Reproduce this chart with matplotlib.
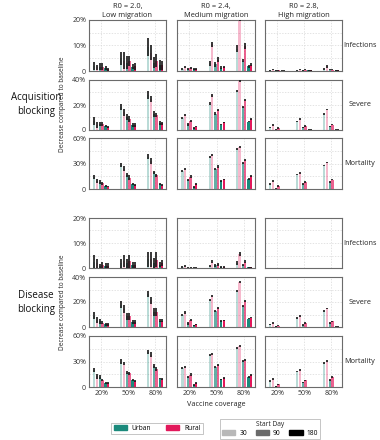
import numpy as np
import matplotlib.pyplot as plt
from matplotlib.patches import Patch

plt.rcParams['font.family'] = ['Open Sans', 'DejaVu Sans']

columns = ['R0 = 2.0,\nLow migration', 'R0 = 2.4,\nMedium migration', 'R0 = 2.8,\nHigh migration']
outcomes = ['Infections', 'Severe', 'Mortality']
strategies = ['Acquisition\nblocking', 'Disease\nblocking']
coverage = ['20%', '50%', '80%']
start_days = ['30', '90', '180']
regions = ['Urban', 'Rural']
y_max = [20, 40, 60]

# decrease (%) per column (low / medium / high migration), per coverage:
# [urban d30, rural d30, urban d90, rural d90, urban d180, rural d180]
acq_inf_mean = [
    [[2.0, 1.4, 1.6, 1.7, 1.1, 0.7], [5.0, 4.0, 3.2, 3.9, 1.7, 1.8], [9.5, 7.2, 3.2, 4.0, 2.3, 2.2]],
    [[0.8, 1.5, 0.6, 1.2, 0.6, 0.6], [3.0, 10.5, 2.6, 4.4, 1.3, 1.6], [8.8, 21.0, 4.1, 9.8, 1.8, 2.5]],
    [[0.3, 0.5, 0.3, 0.2, 0.1, 0.1], [0.2, 0.5, 0.3, 0.4, 0.2, 0.2], [0.9, 1.8, 0.4, 0.4, 0.2, 0.2]],
]
acq_inf_err = [
    [[1.5, 1.1, 1.4, 1.5, 0.9, 0.6], [2.5, 3.3, 2.6, 1.9, 1.1, 1.4], [3.5, 2.8, 2.1, 2.5, 1.9, 1.8]],
    [[0.4, 0.5, 0.4, 0.4, 0.4, 0.4], [1.0, 1.0, 0.9, 0.9, 0.5, 0.4], [1.3, 1.5, 0.7, 1.2, 0.5, 0.5]],
    [[0.2, 0.3, 0.2, 0.1, 0.1, 0.1], [0.2, 0.3, 0.2, 0.2, 0.1, 0.1], [0.4, 0.6, 0.2, 0.2, 0.1, 0.1]],
]
acq_sev_mean = [
    [[7.0, 4.0, 4.5, 4.5, 3.0, 2.5], [18.3, 14.0, 10.5, 8.5, 4.0, 4.0], [27.8, 24.5, 12.7, 11.8, 5.7, 5.2]],
    [[9.8, 11.9, 4.4, 7.1, 1.5, 2.6], [21.1, 27.6, 13.1, 16.1, 4.2, 6.1], [31.1, 39.1, 18.6, 24.1, 6.6, 8.7]],
    [[2.1, 3.9, 0.3, 1.6, 0.1, 0.1], [6.9, 8.7, 2.2, 3.2, 0.2, 0.2], [12.7, 16.2, 3.0, 4.3, 0.3, 0.3]],
]
acq_sev_err = [
    [[3.0, 2.7, 1.6, 1.6, 1.0, 1.0], [2.2, 2.8, 2.5, 2.5, 1.9, 1.9], [3.3, 2.5, 2.5, 1.8, 1.5, 1.5]],
    [[0.9, 0.9, 0.9, 0.9, 0.6, 0.6], [0.9, 0.9, 0.9, 0.9, 0.6, 0.6], [0.9, 0.9, 0.9, 0.9, 0.6, 0.6]],
    [[0.6, 0.6, 0.5, 0.5, 0.2, 0.2], [0.6, 0.6, 0.5, 0.5, 0.2, 0.2], [0.6, 0.6, 0.5, 0.5, 0.2, 0.2]],
]
acq_mort_mean = [
    [[14.5, 9.5, 8.3, 7.0, 3.4, 2.7], [28.4, 24.0, 16.5, 13.5, 5.5, 5.0], [37.8, 33.0, 19.5, 16.0, 5.8, 5.0]],
    [[21.2, 23.4, 11.0, 14.7, 2.2, 5.6], [37.2, 39.7, 23.4, 26.4, 9.2, 11.2], [47.2, 49.4, 30.5, 33.7, 11.9, 15.1]],
    [[5.8, 9.5, 0.3, 3.4, 0.1, 0.1], [17.0, 19.0, 6.2, 8.2, 0.2, 0.2], [27.6, 31.2, 8.2, 11.0, 0.2, 0.2]],
]
acq_mort_err = [
    [[2.5, 2.0, 2.0, 1.8, 1.0, 0.9], [2.4, 3.0, 2.3, 2.5, 1.3, 1.0], [3.0, 3.0, 2.0, 2.0, 1.0, 1.0]],
    [[1.3, 1.3, 1.3, 1.3, 1.0, 1.0], [1.3, 1.3, 1.3, 1.3, 1.0, 1.0], [1.3, 1.3, 1.3, 1.3, 1.0, 1.0]],
    [[1.0, 1.0, 0.5, 1.0, 0.2, 0.2], [1.0, 1.0, 1.0, 1.0, 0.3, 0.3], [1.0, 1.0, 1.0, 1.0, 0.3, 0.3]],
]
dis_inf_mean = [
    [[2.6, 1.9, 0.9, 1.3, 1.0, 1.0], [1.9, 2.8, 1.9, 2.7, 1.3, 1.3], [3.5, 3.5, 2.0, 3.4, 1.4, 2.0]],
    [[0.4, 0.8, 0.2, 0.2, 0.15, 0.15], [0.9, 2.5, 1.1, 1.5, 0.5, 0.5], [2.1, 5.6, 1.2, 2.6, 0.4, 0.4]],
    [[0.1, 0.1, 0.1, 0.1, 0.05, 0.05], [0.1, 0.1, 0.1, 0.1, 0.05, 0.05], [0.1, 0.1, 0.1, 0.1, 0.05, 0.05]],
]
dis_inf_err = [
    [[2.6, 1.7, 0.8, 1.2, 0.9, 0.9], [1.7, 2.5, 1.8, 2.5, 1.2, 1.2], [3.0, 3.0, 1.9, 3.1, 1.1, 1.3]],
    [[0.3, 0.4, 0.2, 0.2, 0.15, 0.15], [0.4, 0.6, 0.5, 0.5, 0.3, 0.3], [0.7, 0.7, 0.5, 0.7, 0.2, 0.2]],
    [[0.1, 0.1, 0.1, 0.1, 0.05, 0.05], [0.1, 0.1, 0.1, 0.1, 0.05, 0.05], [0.1, 0.1, 0.1, 0.1, 0.05, 0.05]],
]
dis_sev_mean = [
    [[9.0, 6.0, 4.5, 3.5, 2.2, 2.2], [18.0, 14.5, 8.5, 8.5, 4.0, 4.0], [26.3, 21.5, 12.0, 12.0, 5.0, 5.0]],
    [[9.6, 11.7, 2.9, 5.8, 1.3, 2.1], [21.4, 25.1, 13.1, 15.2, 4.8, 5.3], [28.7, 35.9, 16.8, 21.1, 6.7, 7.5]],
    [[2.1, 3.1, 0.5, 1.1, 0.1, 0.1], [7.4, 8.7, 1.6, 3.2, 0.2, 0.2], [12.7, 14.9, 3.2, 4.5, 0.3, 0.3]],
]
dis_sev_err = [
    [[2.7, 2.4, 1.8, 1.0, 1.0, 1.0], [2.9, 3.0, 2.5, 2.5, 1.3, 1.3], [2.6, 2.7, 3.0, 3.0, 1.3, 1.3]],
    [[0.9, 0.9, 0.9, 0.9, 0.6, 0.6], [0.9, 0.9, 0.9, 0.9, 0.6, 0.6], [0.9, 0.9, 0.9, 0.9, 0.6, 0.6]],
    [[0.6, 0.6, 0.5, 0.5, 0.2, 0.2], [0.6, 0.6, 0.5, 0.5, 0.2, 0.2], [0.6, 0.6, 0.5, 0.5, 0.2, 0.2]],
]
dis_mort_mean = [
    [[20.0, 12.5, 11.5, 8.5, 5.0, 4.5], [30.0, 27.5, 17.0, 16.0, 8.0, 7.0], [41.0, 38.0, 24.5, 21.5, 10.0, 9.3]],
    [[21.9, 23.1, 11.5, 14.7, 2.2, 4.6], [37.5, 39.1, 23.9, 25.9, 9.0, 11.0], [45.9, 47.9, 30.7, 31.5, 11.8, 14.2]],
    [[7.0, 9.4, 0.6, 3.0, 0.1, 0.1], [18.2, 20.2, 5.4, 7.8, 0.2, 0.2], [28.2, 31.0, 8.6, 11.8, 0.2, 0.2]],
]
dis_mort_err = [
    [[2.4, 2.5, 2.3, 1.4, 1.0, 1.0], [2.4, 2.0, 2.0, 1.8, 1.2, 1.0], [2.5, 2.7, 2.4, 2.2, 1.0, 1.0]],
    [[1.3, 1.3, 1.3, 1.3, 1.0, 1.0], [1.3, 1.3, 1.3, 1.3, 1.0, 1.0], [1.3, 1.3, 1.3, 1.3, 1.0, 1.0]],
    [[1.0, 1.0, 0.6, 1.0, 0.2, 0.2], [1.0, 1.0, 1.0, 1.0, 0.3, 0.3], [1.0, 1.0, 1.0, 1.0, 0.3, 0.3]],
]

means = [[acq_inf_mean, acq_sev_mean, acq_mort_mean], [dis_inf_mean, dis_sev_mean, dis_mort_mean]]
errs = [[acq_inf_err, acq_sev_err, acq_mort_err], [dis_inf_err, dis_sev_err, dis_mort_err]]

region_colors = ['#1b8a7c', '#e2185b']
day_alpha = [0.3, 0.68, 1.0]
day_grays = ['#b8b8b8', '#6a6a6a', '#000000']
pair_off = [-0.21, 0.0, 0.21]
reg_off = [-0.045, 0.045]
bar_w = 0.085

W, H = 380, 440
col_px = [(89, 166), (177, 255), (265, 342)]
row_px = [(20, 71), (80, 130), (138, 189), (218, 268), (277, 327), (336, 387)]

fig = plt.figure(figsize=(W / 100, H / 100), dpi=100)


def rect(x0, x1, y0, y1):
    return [x0 / W, 1 - y1 / H, (x1 - x0) / W, (y1 - y0) / H]


for s in range(2):
    for o in range(3):
        row = s * 3 + o
        y0, y1 = row_px[row]
        top = y_max[o]
        for c in range(3):
            x0, x1 = col_px[c]
            ax = fig.add_axes(rect(x0, x1, y0, y1))
            m = np.array(means[s][o][c])
            e = np.array(errs[s][o][c])
            for k in range(len(coverage)):
                for d in range(3):
                    for r in range(2):
                        x = k + pair_off[d] + reg_off[r]
                        v = m[k, 2 * d + r]
                        ev = e[k, 2 * d + r]
                        ax.bar(x, v, bar_w, color=region_colors[r], alpha=day_alpha[d],
                               linewidth=0, zorder=2)
                        ax.vlines(x, max(v - ev, 0), v + ev, colors='#151515',
                                  linewidth=1.2, zorder=3)
            ax.set_xlim(-0.45, 2.4)
            ax.set_ylim(0, top)
            ax.set_yticks([0, top / 2, top])
            ax.set_yticks([top / 4, top * 3 / 4], minor=True)
            ax.set_xticks(range(3))
            ax.grid(which='both', axis='y', ls=(0, (2, 2)), color='#d8d8d8', lw=0.5)
            ax.grid(axis='x', ls=(0, (2, 2)), color='#d8d8d8', lw=0.5)
            ax.set_axisbelow(True)
            ax.tick_params(which='both', length=0, pad=2, labelsize=5, colors='#333333')
            if c == 0:
                ax.set_yticklabels(['0', '%d%%' % (top / 2), '%d%%' % top])
            else:
                ax.set_yticklabels([])
            if row == 5:
                ax.set_xticklabels(coverage)
            else:
                ax.set_xticklabels([])
            for sp in ax.spines.values():
                sp.set_color('#6b6b6b')
                sp.set_linewidth(0.8)
            if row == 0:
                ax.set_title(columns[c], fontsize=5.4, pad=2, linespacing=1.4, color='#222222')
        fig.text(360 / W, 1 - (y0 + y1) / 2 / H, outcomes[o], ha='center', va='center',
                 fontsize=5.2, color='#222222')
    b0, b1 = row_px[s * 3][0], row_px[s * 3 + 2][1]
    fig.text(36 / W, 1 - (b0 + b1) / 2 / H, strategies[s], ha='center', va='center',
             fontsize=7, linespacing=1.3, color='#111111')
    fig.text(62 / W, 1 - (b0 + b1) / 2 / H, 'Decrease compared to baseline', rotation=90,
             ha='center', va='center', fontsize=4.7, color='#222222')

fig.text(216 / W, 1 - 404 / H, 'Vaccine coverage', ha='center', va='center', fontsize=5.2,
         color='#222222')

leg1 = fig.legend(handles=[Patch(color=col) for col in region_colors], labels=regions,
                  loc='center', bbox_to_anchor=(157 / W, 1 - 428.5 / H), ncol=2, fontsize=4.8,
                  frameon=True, fancybox=False, edgecolor='#aaaaaa', handlelength=2.0,
                  handleheight=0.8, columnspacing=2.2, borderpad=0.35, handletextpad=0.7)
leg1.get_frame().set_linewidth(0.6)
leg2 = fig.legend(handles=[Patch(color=g) for g in day_grays], labels=start_days,
                  title='Start Day', title_fontsize=4.8, loc='center',
                  bbox_to_anchor=(270 / W, 1 - 429 / H), ncol=3, fontsize=4.8,
                  frameon=True, fancybox=False, edgecolor='#aaaaaa', handlelength=2.0,
                  handleheight=0.8, columnspacing=1.3, borderpad=0.3, handletextpad=0.6,
                  labelspacing=0.2)
leg2.get_frame().set_linewidth(0.6)
leg2.get_title().set_color('#222222')

fig.savefig('out.png', dpi=100)
